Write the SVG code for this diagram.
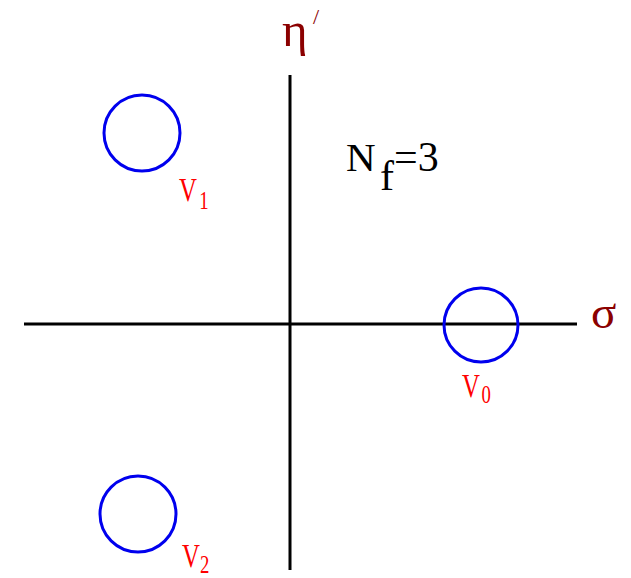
<svg xmlns="http://www.w3.org/2000/svg" width="631" height="578" viewBox="0 0 631 578">
<style>
.ax{stroke:#000;stroke-width:3;fill:none}
.vac{stroke:#0000ee;stroke-width:3;fill:none}
</style>
<rect width="631" height="578" fill="#fff"/>
<g id="connectors">
<line class="ax" x1="290" y1="75" x2="290" y2="570"/>
<line class="ax" x1="24" y1="324" x2="577" y2="324"/>
</g>
<g id="axis-labels">
<text x="282" y="46" font-size="49" font-family="Liberation Serif" fill="#8b0000">η</text>
<text x="313" y="24" font-size="22" font-family="Liberation Serif" fill="#8b0000">/</text>
<text x="591" y="328" font-size="47" font-family="Liberation Serif" fill="#8b0000">σ</text>
</g>
<g id="nf">
<text x="346" y="171" font-size="41" font-family="Liberation Serif" fill="#000">N</text>
<text x="380" y="190" font-size="42" font-family="Liberation Serif" fill="#000">f</text>
<text x="394" y="171" font-size="42" font-family="Liberation Serif" fill="#000">=3</text>
</g>
<g id="v1">
<circle class="vac" cx="142" cy="133" r="38"/>
<g transform="translate(179,201) scale(0.75,1)"><text x="0" y="0" font-size="33" font-family="Liberation Serif" fill="#ff0000">V</text><text x="27" y="8" font-size="25" font-family="Liberation Serif" fill="#ff0000">1</text></g>
</g>
<g id="v0">
<circle class="vac" cx="481" cy="325" r="37"/>
<g transform="translate(462,397) scale(0.75,1)"><text x="0" y="0" font-size="33" font-family="Liberation Serif" fill="#ff0000">V</text><text x="26" y="6" font-size="25" font-family="Liberation Serif" fill="#ff0000">0</text></g>
</g>
<g id="v2">
<circle class="vac" cx="138" cy="514" r="38"/>
<g transform="translate(182,567) scale(0.75,1)"><text x="0" y="0" font-size="33" font-family="Liberation Serif" fill="#ff0000">V</text><text x="24" y="6" font-size="25" font-family="Liberation Serif" fill="#ff0000">2</text></g>
</g>
</svg>
